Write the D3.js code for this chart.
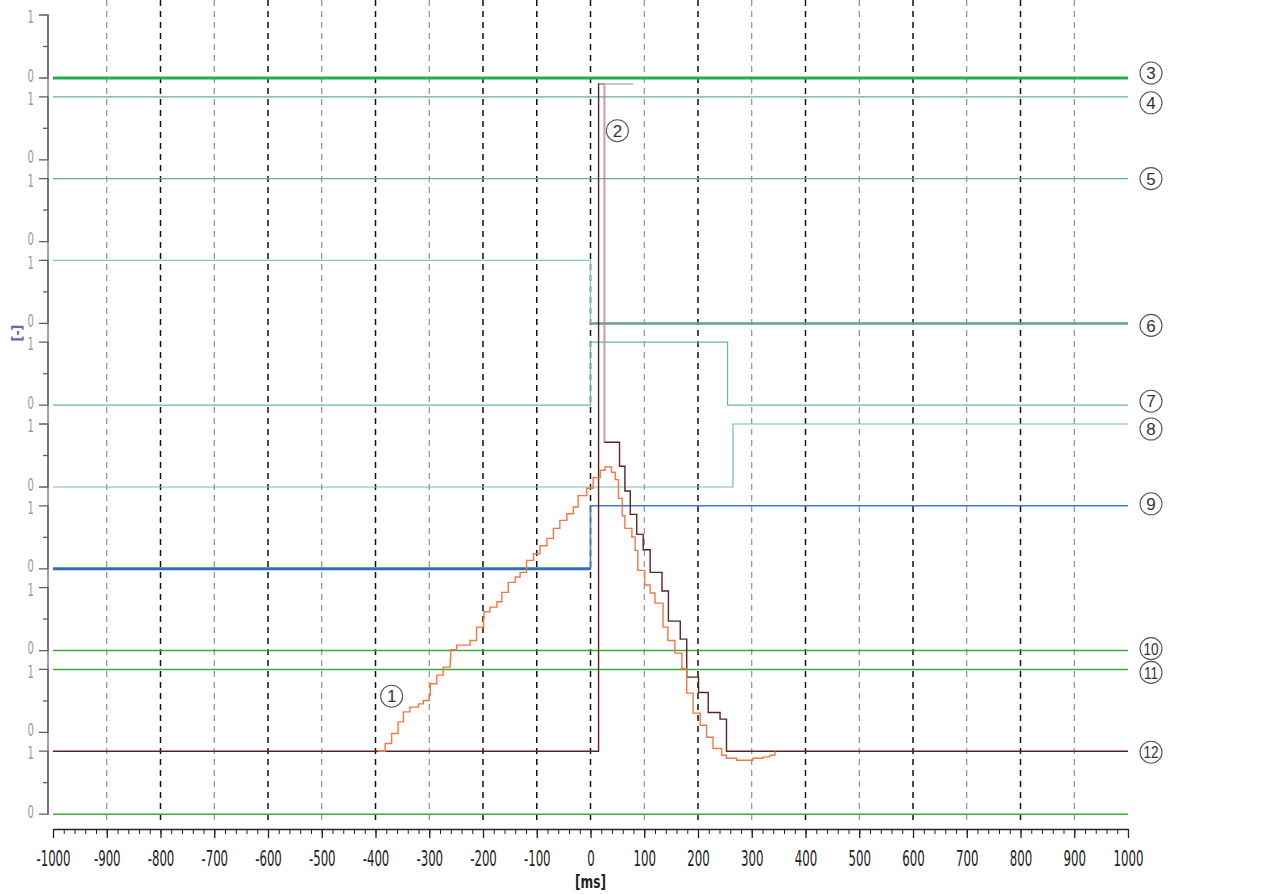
<!DOCTYPE html>
<html lang="en">
<head>
    <meta charset="utf-8">
    <title>Signal traces</title>
    <script src="https://d3js.org/d3.v7.min.js"></script>
    <style>
        body{ margin: 0; background-color: white; }
        svg{ display: block; }
        text{ font-family: "DejaVu Sans Condensed", "DejaVu Sans", sans-serif; }
    </style>
</head>
<body>
<div id="my_dataviz"></div>
<script>

// ---- data ----
var xMajor = d3.range(-1000, 1001, 100)
var xMinor = d3.range(-1000, 1001, 20)
var gridBold = [-800, -600, -400, -200, -100, 0, 200, 400, 600, 800]
var gridLight = [-900, -700, -500, -300, 100, 300, 500, 700, 900]
var trackCount = 10

// digital signals: [ms, level], level held until next point
var sig3  = [[-1000, 0], [1000, 0]]
var sig4  = [[-1000, 1], [1000, 1]]
var sig5  = [[-1000, 1], [1000, 1]]
var sig6  = [[-1000, 1], [0, 0], [1000, 0]]
var sig7  = [[-1000, 0], [0, 1], [255, 0], [1000, 0]]
var sig8  = [[-1000, 0], [265, 1], [1000, 1]]
var sig9  = [[-1000, 0], [0, 1], [1000, 1]]
var sig10 = [[-1000, 0], [1000, 0]]
var sig11 = [[-1000, 1], [1000, 1]]
var sigLast = [[-1000, 0], [1000, 0]]

// analog traces (0..100 % of full scale), step after
var sig1 = [[-395, 0], [-382, 1.15], [-370, 2.65], [-358, 4.4], [-348, 5.9], [-336, 6.6],
    [-320, 7.1], [-311, 7.6], [-300, 8.4], [-298, 10.1], [-286, 11.4], [-274, 12.6], [-261, 13.9],
    [-260, 15.2], [-249, 15.9], [-224, 16.6], [-212, 18.6], [-199, 19.9], [-198, 20.9], [-187, 21.6],
    [-174, 22.4], [-165, 23.8], [-153, 25.3], [-140, 26.1], [-131, 26.8], [-119, 28.6], [-106, 29.6],
    [-94, 30.8], [-81, 31.9], [-69, 33.4], [-57, 34.6], [-44, 35.6], [-32, 36.6], [-23, 38.3],
    [-7, 39.4], [5, 41.0], [18, 42.1], [27, 42.6], [39, 41.8], [46, 40.7], [52, 37.9], [59, 35.3],
    [64, 33.4], [77, 32.1], [83, 30.1], [88, 27.1], [101, 24.9], [111, 23.7], [120, 22.2],
    [135, 18.6], [144, 16.6], [157, 14.7], [170, 12.4], [179, 8.7], [191, 5.7], [204, 3.9],
    [216, 2.1], [228, 0.4], [244, -0.6], [253, -1.05], [272, -1.35], [302, -1.05], [321, -0.85],
    [334, -0.6], [343, 0]]
var sig12 = [[-1000, 0], [15, 0], [15, 100], [26, 100], [26, 46.3], [54, 42.7], [64, 39.0],
    [74, 35.5], [86, 32.5], [98, 30.2], [111, 26.8], [133, 24.0], [145, 19.5], [167, 16.8],
    [179, 11.1], [201, 8.8], [219, 5.8], [241, 4.8], [253, 0], [1000, 0]]
var sig2 = [[26, 46.3], [26, 100]]
var sig2cap = [[16, 100], [80, 100]]

var markerNames = ["1", "2", "3", "4", "5", "6", "7", "8", "9", "10", "11", "12"]

// ---- layout ----
var width = 1271, height = 894
var trackTop = 15, trackStep = 81.8, trackH = 63

var svg = d3.select("#my_dataviz").append("svg")
    .attr("width", width).attr("height", height)

var x = d3.scaleLinear().domain([-1000, 1000]).range([53, 1128])

function trackY(i, level){ return trackTop + i * trackStep + (1 - level) * trackH }

var yA = d3.scaleLinear().domain([0, 100]).range([trackY(9, 1), 84])

function digital(track){
    return d3.line().curve(d3.curveStepAfter)
        .x(d => x(d[0])).y(d => trackY(track, d[1]))
}
var analog = d3.line().curve(d3.curveStepAfter).x(d => x(d[0])).y(d => yA(d[1]))
var plain = d3.line().x(d => x(d[0])).y(d => yA(d[1]))

// part of a step signal between two times
function segment(sig, from, to){
    var out = sig.filter(d => d[0] > from && d[0] < to)
    var before = sig.filter(d => d[0] <= from)
    out.unshift([from, before[before.length - 1][1]])
    out.push([to, out[out.length - 1][1]])
    return out
}

// vertical grid
svg.append("g").selectAll("line").data(gridLight).join("line")
    .attr("x1", d => x(d)).attr("x2", d => x(d))
    .attr("y1", 0).attr("y2", 824)
    .attr("stroke", "#777").attr("stroke-width", 1).attr("stroke-dasharray", "6,5")
svg.append("g").selectAll("line").data(gridBold).join("line")
    .attr("x1", d => x(d)).attr("x2", d => x(d))
    .attr("y1", 0).attr("y2", 824)
    .attr("stroke", "#111").attr("stroke-width", 1.5).attr("stroke-dasharray", "6,5")

// left track brackets
var yAxisX = 48
svg.append("line")
    .attr("x1", yAxisX).attr("x2", yAxisX)
    .attr("y1", trackY(0, 1)).attr("y2", trackY(trackCount - 1, 0))
    .attr("stroke", "#7f78c4").attr("stroke-width", 1.5)

var tracks = svg.append("g").selectAll("g").data(d3.range(trackCount)).join("g")
tracks.append("path")
    .attr("d", i => "M" + (yAxisX - 9) + "," + trackY(i, 1) + "H" + yAxisX + "V" + trackY(i, 0) + "H" + (yAxisX - 9))
    .attr("fill", "none").attr("stroke", "#5c5c70").attr("stroke-width", 1.3)
tracks.append("line")
    .attr("x1", yAxisX - 5).attr("x2", yAxisX)
    .attr("y1", i => trackY(i, 0.5)).attr("y2", i => trackY(i, 0.5))
    .attr("stroke", "#5c5c70").attr("stroke-width", 1.3)
tracks.append("text")
    .attr("transform", i => "translate(34," + trackY(i, 1) + ") scale(0.62,1)")
    .attr("dy", "0.45em")
    .attr("text-anchor", "end").attr("fill", "#999").style("font-size", "18px")
    .text("1")
tracks.append("text")
    .attr("transform", i => "translate(34," + trackY(i, 0) + ") scale(0.62,1)")
    .attr("dy", "0.2em")
    .attr("text-anchor", "end").attr("fill", "#999").style("font-size", "18px")
    .text("0")

svg.append("text")
    .attr("transform", "translate(22," + 333 + ") rotate(-90)")
    .attr("text-anchor", "middle").attr("fill", "#6a64b4")
    .style("font-size", "14px").style("font-weight", "bold")
    .text("[-]")

// digital traces
var traces = [
    {sig: sig3, track: 0, color: "#22ad55", w: 3},
    {sig: sig4, track: 1, color: "#5eaea5", w: 1.2},
    {sig: sig5, track: 2, color: "#5eaea5", w: 1.2},
    {sig: sig6, track: 3, color: "#7cc4c8", w: 1.2},
    {sig: sig7, track: 4, color: "#6ab4ae", w: 1.2},
    {sig: sig8, track: 5, color: "#7ab8b4", w: 1.2},
    {sig: sig9, track: 6, color: "#3a7ccc", w: 1.5},
    {sig: sig10, track: 7, color: "#3aaa3a", w: 1.5},
    {sig: sig11, track: 8, color: "#3aaa3a", w: 1.5},
    {sig: sigLast, track: 9, color: "#3aaa3a", w: 1.5}
]
traces.forEach(function(t){
    svg.append("path").datum(t.sig)
        .attr("d", digital(t.track))
        .attr("fill", "none").attr("stroke", t.color).attr("stroke-width", t.w)
})
// thicker sections
svg.append("path").datum(segment(sig6, 0, 1000))
    .attr("d", digital(3)).attr("fill", "none").attr("stroke", "#6c9e9a").attr("stroke-width", 2.5)
svg.append("path").datum(segment(sig9, -1000, 0))
    .attr("d", digital(6)).attr("fill", "none").attr("stroke", "#2f6fb8").attr("stroke-width", 3)

// analog traces
svg.append("path").datum(sig12)
    .attr("d", analog).attr("fill", "none").attr("stroke", "#5a2424").attr("stroke-width", 1.4)
svg.append("path").datum(sig2cap)
    .attr("d", plain).attr("fill", "none").attr("stroke", "#b8b8c4").attr("stroke-width", 1.5)
svg.append("path").datum(sig2)
    .attr("d", plain).attr("fill", "none").attr("stroke", "#d49aa8").attr("stroke-width", 1.2)
svg.append("path").datum(sig1)
    .attr("d", analog).attr("fill", "none").attr("stroke", "#f07845").attr("stroke-width", 1.4)

// numbered markers
var markerPos = [
    {cx: x(-370), cy: trackY(9, 1) - 55},
    {cx: x(50), cy: yA(93)},
    {cx: 1151, cy: trackY(0, 0) - 5},
    {cx: 1151, cy: trackY(1, 1) + 6},
    {cx: 1151, cy: trackY(2, 1)},
    {cx: 1151, cy: trackY(3, 0) + 2},
    {cx: 1151, cy: trackY(4, 0) - 4},
    {cx: 1151, cy: trackY(5, 1) + 5},
    {cx: 1151, cy: trackY(6, 1) - 2},
    {cx: 1151, cy: trackY(7, 0) - 2},
    {cx: 1151, cy: trackY(8, 1) + 3},
    {cx: 1151, cy: trackY(9, 1) + 1}
]
var markers = svg.append("g").selectAll("g").data(markerNames).join("g")
    .attr("transform", (d, i) => "translate(" + markerPos[i].cx + "," + markerPos[i].cy + ")")
markers.append("circle").attr("r", 11)
    .attr("fill", "white").attr("stroke", "#555").attr("stroke-width", 1.1)
markers.append("text")
    .attr("text-anchor", "middle").attr("dy", "0.37em")
    .attr("transform", d => d.length > 1 ? "scale(0.8,1)" : null)
    .attr("fill", "#333").style("font-size", "17px")
    .style("font-family", "'Liberation Sans', Arial, sans-serif")
    .text(d => d)

// x axis
var axisY = 829
svg.append("g").attr("transform", "translate(0," + axisY + ")")
    .call(d3.axisBottom(x).tickValues(xMinor).tickSize(5).tickFormat("").tickSizeOuter(0))
    .call(g => g.select(".domain").remove())
    .call(g => g.selectAll("line").attr("stroke", "#222"))
var xAxis = svg.append("g").attr("transform", "translate(0," + axisY + ")")
    .call(d3.axisBottom(x).tickValues(xMajor).tickSize(9).tickPadding(13).tickSizeOuter(0)
        .tickFormat(d => String(d)))
xAxis.select(".domain").attr("stroke", "#222").attr("stroke-width", 1.5)
xAxis.selectAll("line").attr("stroke", "#222").attr("stroke-width", 1.3)
xAxis.selectAll("text").style("font-size", "21px").attr("fill", "#222")
    .attr("transform", "scale(0.56,1)")
    .style("font-family", "'DejaVu Sans', sans-serif")

svg.append("text")
    .attr("transform", "translate(" + x(0) + ",888) scale(0.75,1)")
    .attr("text-anchor", "middle").attr("fill", "#222")
    .style("font-size", "18px").style("font-weight", "bold")
    .text("[ms]")

</script>
</body>
</html>
